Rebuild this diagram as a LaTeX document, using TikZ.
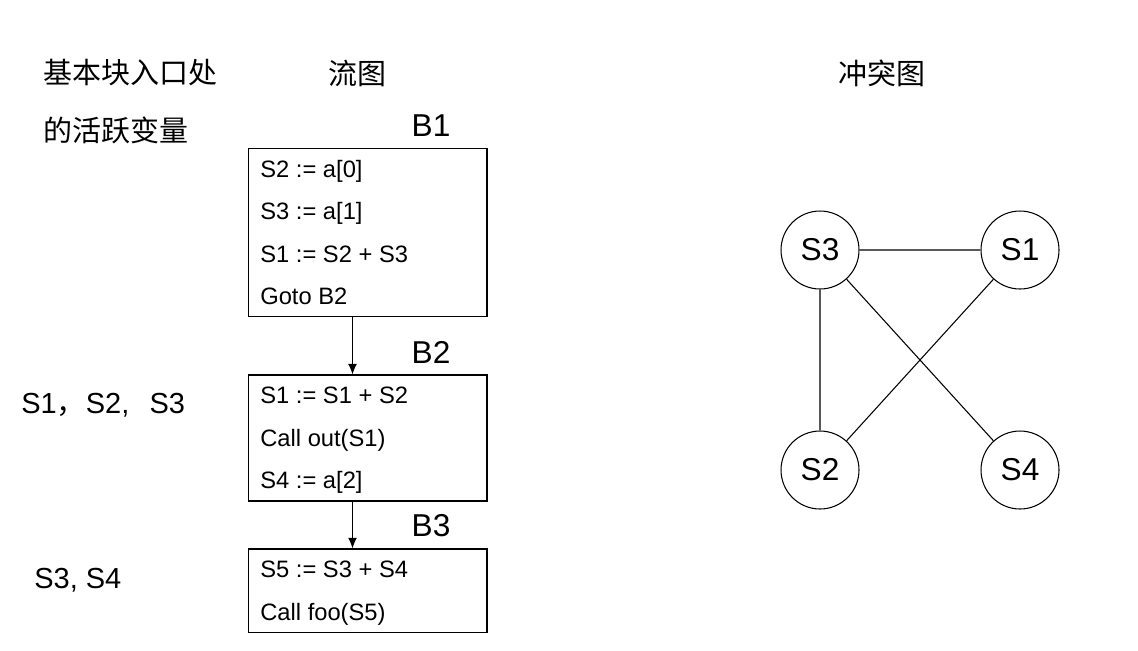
\documentclass[tikz,border=0pt]{standalone}
\usepackage{fontspec}
\setmainfont{Liberation Sans}
\newfontfamily\cjk{Noto Sans CJK SC}
\usetikzlibrary{arrows.meta}

\tikzset{
  blockbox/.style = {draw, line width = 0.6pt, minimum width = 4.78cm, inner sep = 0},
  codeline/.style = {anchor = base west, inner sep = 0, font = \fontsize{13.5}{15}\selectfont},
  blocklabel/.style = {inner sep = 0, font = \fontsize{18}{20}\selectfont},
  cnlabel/.style = {anchor = west, inner sep = 0, font = \cjk\fontsize{16.5}{18}\selectfont},
  livelabel/.style = {anchor = west, inner sep = 0, font = \fontsize{16.5}{18}\selectfont},
  varnode/.style = {draw, line width = 0.6pt, circle, minimum size = 1.56cm, inner sep = 0,
    font = \fontsize{18}{20}\selectfont},
  edge/.style = {line width = 0.6pt},
  flow/.style = {line width = 0.6pt, -{Latex[length = 6pt, width = 5pt]}}
}

\begin{document}
\begin{tikzpicture}[x = 0.02cm, y = -0.02cm]
  \useasboundingbox (0,0) rectangle (1138,650);

  % headings
  \node[cnlabel] (head1) at (43,73) {基本块入口处};
  \node[cnlabel] (head2) at (43,130) {的活跃变量};
  \node[cnlabel] (head3) at (328,73) {流图};
  \node[cnlabel] (head4) at (838,73) {冲突图};

  % flow graph
  \node[blockbox, minimum height = 3.37cm] (b1) at (367.5,232.3) {};
  \node[blockbox, minimum height = 2.52cm] (b2) at (367.5,438) {};
  \node[blockbox, minimum height = 1.67cm] (b3) at (367.5,590.7) {};

  \node[blocklabel] (l1) at (431,126) {B1};
  \node[blocklabel] (l2) at (431,352) {B2};
  \node[blocklabel] (l3) at (431,526) {B3};

  \foreach \txt [count = \i] in {S2 := a[0], S3 := a[1], S1 := S2 + S3, Goto B2} {
    \node[codeline] (c1\i) at (260, 177 + 42.5*\i - 42.5) {\txt};
  }
  \foreach \txt [count = \i] in {S1 := S1 + S2, Call out(S1), S4 := a[2]} {
    \node[codeline] (c2\i) at (260, 403.5 + 42.5*\i - 42.5) {\txt};
  }
  \foreach \txt [count = \i] in {S5 := S3 + S4, Call foo(S5)} {
    \node[codeline] (c3\i) at (260, 577.5 + 42.5*\i - 42.5) {\txt};
  }

  \coordinate (ax) at (352.5,0);
  \draw[flow] (b1.south -| ax) -- (b2.north -| ax);
  \draw[flow] (b2.south -| ax) -- (b3.north -| ax);

  % live variables
  \node[livelabel] (live2) at (21,405) {S1{\cjk ，}S2,\hspace{0.7em}S3};
  \node[livelabel] (live3) at (34,580) {S3, S4};

  % interference graph
  \node[varnode] (s3) at (820,250) {S3};
  \node[varnode] (s1) at (1020,250) {S1};
  \node[varnode] (s2) at (820,470) {S2};
  \node[varnode] (s4) at (1020,470) {S4};
  \draw[edge] (s3) -- (s1)
              (s3) -- (s2)
              (s3) -- (s4)
              (s1) -- (s2);
\end{tikzpicture}
\end{document}
